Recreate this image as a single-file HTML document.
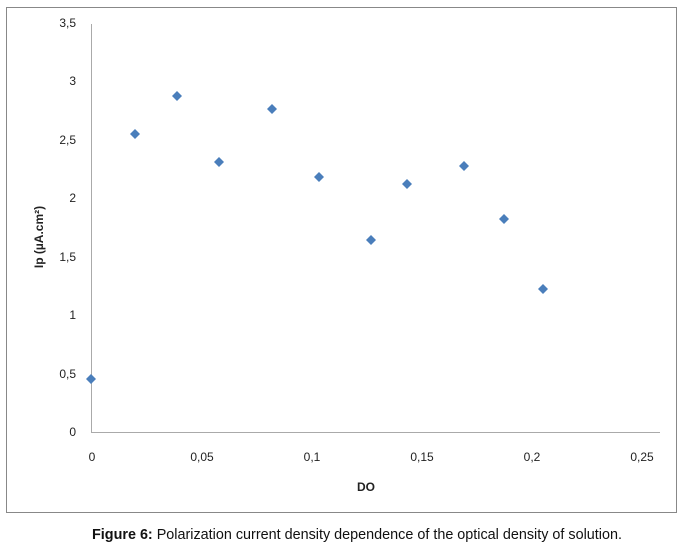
<!DOCTYPE html>
<html><head><meta charset="utf-8"><style>
body{margin:0;background:#fff;width:682px;height:546px;overflow:hidden}
svg{display:block}
text{font-family:"Liberation Sans",sans-serif}
</style></head><body>
<svg width="682" height="546" viewBox="0 0 682 546">
<rect x="6.5" y="7.5" width="670" height="505" fill="#fff" stroke="#888" stroke-width="1"/>
<line x1="91.5" y1="24" x2="91.5" y2="432.5" stroke="#aaa"/>
<line x1="91" y1="432.5" x2="660" y2="432.5" stroke="#aaa"/>
<g font-size="12" fill="#222" text-anchor="end">
<text x="76" y="436">0</text>
<text x="76" y="378">0,5</text>
<text x="76" y="319">1</text>
<text x="76" y="261">1,5</text>
<text x="76" y="202">2</text>
<text x="76" y="144">2,5</text>
<text x="76" y="85">3</text>
<text x="76" y="27">3,5</text>
</g>
<g font-size="12" fill="#222" text-anchor="middle">
<text x="92" y="461">0</text>
<text x="202" y="461">0,05</text>
<text x="312" y="461">0,1</text>
<text x="422" y="461">0,15</text>
<text x="532" y="461">0,2</text>
<text x="642" y="461">0,25</text>
</g>
<text x="366" y="491" font-size="12" font-weight="bold" text-anchor="middle" fill="#222">DO</text>
<text transform="translate(43,237) rotate(-90)" font-size="12" font-weight="bold" text-anchor="middle" fill="#222">Ip (µA.cm²)</text>
<g fill="#4a7ebb">
<path d="M91 374l5 5-5 5-5-5z"/>
<path d="M135 129l5 5-5 5-5-5z"/>
<path d="M177 91l5 5-5 5-5-5z"/>
<path d="M219 157l5 5-5 5-5-5z"/>
<path d="M272 104l5 5-5 5-5-5z"/>
<path d="M319 172l5 5-5 5-5-5z"/>
<path d="M371 235l5 5-5 5-5-5z"/>
<path d="M407 179l5 5-5 5-5-5z"/>
<path d="M464 161l5 5-5 5-5-5z"/>
<path d="M504 214l5 5-5 5-5-5z"/>
<path d="M543 284l5 5-5 5-5-5z"/>
</g>
<text x="357" y="539" font-size="14.5" text-anchor="middle" fill="#111" textLength="530" lengthAdjust="spacingAndGlyphs"><tspan font-weight="bold">Figure 6:</tspan> Polarization current density dependence of the optical density of solution.</text>
</svg>
</body></html>
